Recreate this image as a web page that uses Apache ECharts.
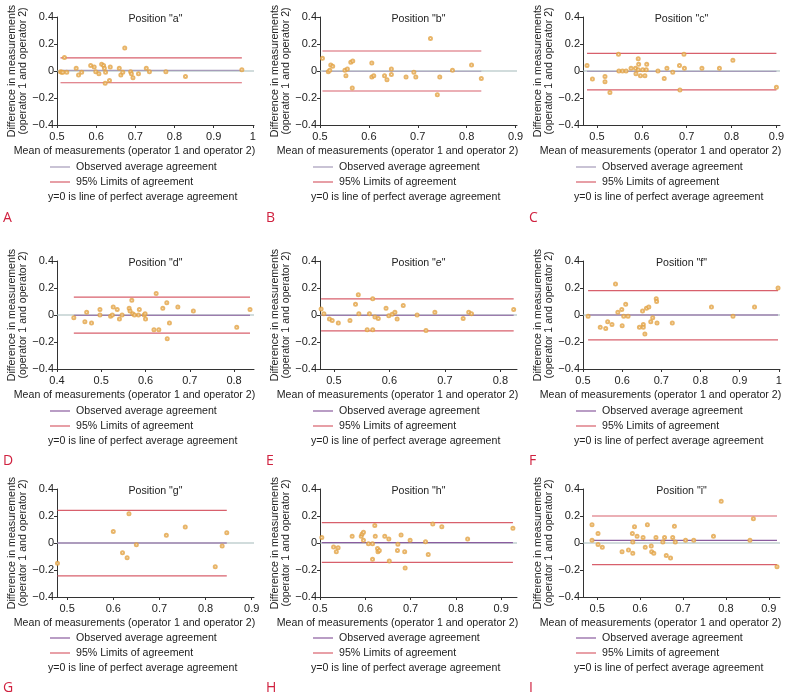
<!DOCTYPE html>
<html><head><meta charset="utf-8">
<script src="https://cdn.jsdelivr.net/npm/echarts@6/dist/echarts.min.js"></script>
<style>html,body{margin:0;padding:0;background:#fff}#c{width:789px;height:698px}</style>
</head><body><div id="c"></div><script>
const positionNames = ['a','b','c','d','e','f','g','h','i'];
const panelLetters = ['A','B','C','D','E','F','G','H','I'];

const pointsA = [[0.509,-0.005],[0.512,-0.01],[0.515,-0.01],[0.519,0.1],[0.525,-0.01],[0.549,0.02],[0.555,-0.03],[0.563,-0.01],[0.586,0.04],[0.595,0.03],[0.599,-0.005],[0.607,-0.02],[0.614,0.05],[0.619,0.04],[0.621,0.02],[0.624,-0.01],[0.623,-0.09],[0.634,-0.07],[0.636,0.03],[0.659,0.02],[0.663,-0.03],[0.668,-0.01],[0.673,0.17],[0.688,-0.005],[0.69,-0.02],[0.694,-0.05],[0.708,-0.02],[0.728,0.02],[0.736,-0.005],[0.778,-0.005],[0.828,-0.04],[0.972,0.01]];
const pointsB = [[0.505,0.095],[0.517,-0.005],[0.52,0.005],[0.522,0.045],[0.526,0.035],[0.551,0.005],[0.553,-0.035],[0.556,0.015],[0.563,0.065],[0.567,0.075],[0.566,-0.125],[0.606,0.06],[0.606,-0.045],[0.61,-0.035],[0.632,-0.035],[0.637,-0.065],[0.646,0.015],[0.646,-0.025],[0.676,-0.045],[0.692,-0.01],[0.696,-0.045],[0.726,0.24],[0.74,-0.175],[0.745,-0.045],[0.771,0.005],[0.81,0.045],[0.83,-0.055]];
const pointsC = [[0.478,0.04],[0.49,-0.06],[0.518,-0.04],[0.518,-0.08],[0.529,-0.16],[0.548,0.125],[0.549,0],[0.557,0],[0.565,0],[0.576,0.02],[0.586,0.02],[0.587,-0.02],[0.592,0.09],[0.593,0.05],[0.592,0.01],[0.597,-0.035],[0.602,0.01],[0.607,-0.035],[0.611,0.05],[0.61,0.01],[0.636,0],[0.65,-0.055],[0.656,0.02],[0.669,-0.01],[0.684,0.04],[0.685,-0.14],[0.694,0.125],[0.695,0.02],[0.734,0.02],[0.773,0.02],[0.803,0.08],[0.9,-0.12]];
const pointsD = [[0.438,-0.02],[0.463,-0.05],[0.467,0.02],[0.478,-0.06],[0.497,0.04],[0.497,0],[0.521,-0.01],[0.525,0],[0.527,0.06],[0.536,0.04],[0.541,-0.03],[0.547,0],[0.563,0.05],[0.565,0.03],[0.569,0.11],[0.571,0.01],[0.575,0],[0.584,0],[0.586,0.04],[0.597,0],[0.599,0.01],[0.6,-0.03],[0.619,-0.11],[0.624,0.16],[0.63,-0.11],[0.639,0.05],[0.648,0.09],[0.649,-0.175],[0.654,-0.06],[0.673,0.06],[0.708,0.03],[0.806,-0.09],[0.836,0.04]];
const pointsE = [[0.477,0.045],[0.482,0.01],[0.492,-0.03],[0.497,-0.04],[0.508,-0.06],[0.529,-0.04],[0.539,0.08],[0.544,0.15],[0.545,0.01],[0.56,-0.11],[0.564,0.01],[0.57,0.12],[0.57,-0.11],[0.574,-0.015],[0.58,-0.025],[0.594,0.05],[0.599,-0.005],[0.605,0.005],[0.61,0.02],[0.614,-0.03],[0.625,0.07],[0.65,0],[0.666,-0.115],[0.682,0.02],[0.733,-0.025],[0.743,0.02],[0.748,0.01],[0.824,0.04]];
const pointsF = [[0.513,-0.01],[0.544,-0.09],[0.558,-0.1],[0.563,-0.05],[0.574,-0.07],[0.583,0.23],[0.589,0.02],[0.599,0.04],[0.6,-0.08],[0.604,-0.01],[0.609,0.08],[0.615,-0.01],[0.644,-0.09],[0.652,0.03],[0.654,-0.07],[0.654,-0.09],[0.658,-0.14],[0.662,0.05],[0.668,0.06],[0.673,-0.05],[0.678,-0.02],[0.687,0.12],[0.688,0.1],[0.689,-0.06],[0.728,-0.06],[0.828,0.06],[0.883,-0.01],[0.938,0.06],[0.998,0.2]];
const pointsG = [[0.479,-0.15],[0.6,0.085],[0.62,-0.072],[0.63,-0.11],[0.634,0.217],[0.65,-0.013],[0.715,0.058],[0.756,0.118],[0.821,-0.175],[0.836,-0.022],[0.846,0.076]];
const pointsH = [[0.504,0.04],[0.53,-0.03],[0.536,-0.065],[0.54,-0.035],[0.571,0.05],[0.591,0.05],[0.593,0.067],[0.596,0.08],[0.596,0.02],[0.607,-0.005],[0.616,-0.005],[0.616,-0.12],[0.621,0.13],[0.622,0.05],[0.627,-0.04],[0.628,-0.065],[0.631,-0.055],[0.643,0.05],[0.652,0.03],[0.653,-0.133],[0.672,-0.01],[0.671,-0.055],[0.679,0.06],[0.687,-0.065],[0.688,-0.185],[0.699,0.02],[0.733,0.01],[0.739,-0.085],[0.749,0.14],[0.769,0.12],[0.826,0.03],[0.926,0.11]];
const pointsI = [[0.488,0.135],[0.488,0.02],[0.502,0.07],[0.502,-0.012],[0.512,-0.032],[0.558,-0.065],[0.573,-0.052],[0.582,0.07],[0.583,0.007],[0.583,-0.075],[0.587,0.12],[0.593,0.05],[0.607,0.04],[0.612,-0.032],[0.617,0.135],[0.626,-0.022],[0.627,-0.065],[0.632,-0.075],[0.637,0.04],[0.653,0.007],[0.657,0.04],[0.661,-0.092],[0.671,-0.112],[0.676,0.04],[0.68,0.125],[0.682,0.007],[0.706,0.02],[0.725,0.02],[0.771,0.05],[0.789,0.31],[0.856,0.02],[0.864,0.18],[0.919,-0.175]];
const allPoints = [pointsA,pointsB,pointsC,pointsD,pointsE,pointsF,pointsG,pointsH,pointsI];

const meanDiff = [0.005,-0.002,-0.003,-0.002,-0.002,0,0,0.003,0.02];
const upperLoA = [0.097,0.148,0.13,0.132,0.12,0.18,0.242,0.151,0.2];
const lowerLoA = [-0.087,-0.148,-0.14,-0.134,-0.117,-0.184,-0.243,-0.144,-0.16];

const xAxisMin = [0.5,0.5,0.469,0.4,0.475,0.5,0.478,0.5,0.467];
const xAxisMax = [1.003,0.903,0.908,0.845,0.83,1.003,0.905,0.935,0.926];
const xTicks = [
  [0.5,0.6,0.7,0.8,0.9,1],[0.5,0.6,0.7,0.8,0.9],[0.5,0.6,0.7,0.8,0.9],
  [0.4,0.5,0.6,0.7,0.8],[0.5,0.6,0.7,0.8],[0.5,0.6,0.7,0.8,0.9,1],
  [0.5,0.6,0.7,0.8,0.9],[0.5,0.6,0.7,0.8,0.9],[0.5,0.6,0.7,0.8,0.9]
];
const yTicks = [-0.4,-0.2,0,0.2,0.4];

const legendTexts = ['Observed average agreement','95% Limits of agreement','y=0 is line of perfect average agreement'];
const xAxisTitle = 'Mean of measurements (operator 1 and operator 2)';
const yAxisTitle = 'Difference in measurements\n(operator 1 and operator 2)';

// layout
const colX = [0,263,526];
const rowTop = [17,261,489];
const plotH = 108, plotL = 57, plotW = 197;
const legendY = [[167,182,197],[411,426,441],[638,653,668]];
const letterY = [218,461,688];
const FONT = '"Liberation Sans", Arial, sans-serif';
const fs = 10.6;
const meanColors = ['#a69cba','#8a5c9e','#8a5c9e'];
const limitColor = '#d8606c';
const zeroColor = '#a3b9b9';
const pointColor = '#e2a244';

const fmt = v => { const s = String(+(+v).toFixed(2)); return s.replace('-', '\u2212'); };

const grids = [], xAxes = [], yAxes = [], series = [], graphics = [];
for (let i = 0; i < 9; i++) {
  const r = Math.floor(i/3), c = i%3;
  const ox = colX[c];
  grids.push({left: ox+plotL, top: rowTop[r], width: plotW, height: plotH, containLabel:false, outerBoundsMode:'none'});
  xAxes.push({
    type:'value', gridIndex:i, min:xAxisMin[i], max:xAxisMax[i],
    splitLine:{show:false},
    axisLine:{show:true, onZero:false, lineStyle:{color:'#333', width:1}},
    axisTick:{show:true, inside:false, length:3, customValues:xTicks[i], lineStyle:{color:'#333'}},
    axisLabel:{show:true, customValues:xTicks[i], margin:6, color:'#222', fontSize:11, fontFamily:FONT, formatter:fmt},
    name: xAxisTitle, nameLocation:'middle', nameGap:21,
    nameTextStyle:{color:'#222', fontSize:fs, fontFamily:FONT, padding:[0,42,0,0]}
  });
  yAxes.push({
    type:'value', gridIndex:i, min:-0.4, max:0.4, interval:0.2,
    splitLine:{show:false},
    axisLine:{show:true, onZero:false, lineStyle:{color:'#333', width:1}},
    axisTick:{show:true, inside:false, length:3, customValues:yTicks, lineStyle:{color:'#333'}},
    axisLabel:{show:true, customValues:yTicks, margin:3, color:'#222', fontSize:11, fontFamily:FONT, formatter:fmt},
    name: yAxisTitle, nameLocation:'middle', nameGap:28, nameRotate:90,
    nameTextStyle:{color:'#222', fontSize:fs, lineHeight:11, fontFamily:FONT, align:'center'}
  });
  const pts = allPoints[i];
  const xs = pts.map(p => p[0]);
  const x0 = Math.min(...xs), x1 = Math.max(...xs);
  series.push({type:'line', xAxisIndex:i, yAxisIndex:i, data:[[xAxisMin[i],0],[xAxisMax[i],0]], symbol:'none', silent:true, z:1, lineStyle:{color:zeroColor, width:1}});
  series.push({type:'line', xAxisIndex:i, yAxisIndex:i, data:[[x0,upperLoA[i]],[x1,upperLoA[i]]], symbol:'none', silent:true, z:2, lineStyle:{color:limitColor, width:1.2}});
  series.push({type:'line', xAxisIndex:i, yAxisIndex:i, data:[[x0,lowerLoA[i]],[x1,lowerLoA[i]]], symbol:'none', silent:true, z:2, lineStyle:{color:limitColor, width:1.2}});
  series.push({type:'line', xAxisIndex:i, yAxisIndex:i, data:[[x0,meanDiff[i]],[x1,meanDiff[i]]], symbol:'none', silent:true, z:2, lineStyle:{color:meanColors[r], width:1.2}});
  series.push({type:'scatter', xAxisIndex:i, yAxisIndex:i, data:pts, symbol:'emptyCircle', symbolSize:3, z:3,
    itemStyle:{color:pointColor, borderColor:pointColor, borderWidth:0.9}});

  const txt = (x, y, text, opts) => Object.assign({type:'text', x, y, silent:true,
    style:Object.assign({text, font: fs+'px '+FONT, fill:'#222', align:'left', textAlign:'left', verticalAlign:'middle', textVerticalAlign:'middle'}, opts||{})});
  graphics.push(txt(ox+plotL+plotW/2, rowTop[r]+2.5, 'Position "'+positionNames[i]+'"', {align:'center', textAlign:'center'}));
  const lx0 = ox+50, lx1 = ox+70;
  graphics.push({type:'line', silent:true, shape:{x1:lx0, y1:legendY[r][0], x2:lx1, y2:legendY[r][0]}, style:{stroke:meanColors[r], lineWidth:1.2}});
  graphics.push({type:'line', silent:true, shape:{x1:lx0, y1:legendY[r][1], x2:lx1, y2:legendY[r][1]}, style:{stroke:limitColor, lineWidth:1.2}});
  graphics.push(txt(ox+76, legendY[r][0], legendTexts[0]));
  graphics.push(txt(ox+76, legendY[r][1], legendTexts[1]));
  graphics.push(txt(ox+48, legendY[r][2], legendTexts[2]));
  graphics.push(txt(ox+3, letterY[r], panelLetters[i], {font:'14px "Open Sans", "Noto Sans", sans-serif', fill:'#d0213f'}));
}

const chart = echarts.init(document.getElementById('c'), null, {renderer:'canvas'});
chart.setOption({
  animation:false,
  backgroundColor:'#fff',
  grid:grids, xAxis:xAxes, yAxis:yAxes, series, graphic:{elements:graphics}
});
</script></body></html>
